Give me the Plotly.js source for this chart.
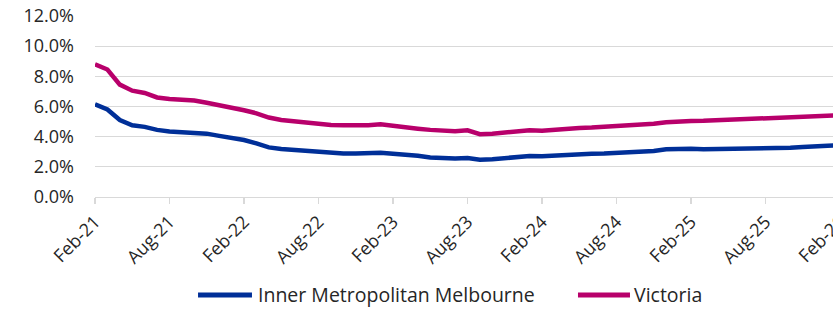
<!DOCTYPE html>
<html>
<head>
<meta charset="utf-8">
<script src="https://cdn.plot.ly/plotly-3.0.1.min.js"></script>
<style>
html, body { margin: 0; padding: 0; background: #ffffff; overflow: hidden; }
#chart { width: 850px; height: 309px; }
</style>
</head>
<body>
<div id="chart"></div>
<script>
var months = [
  "Feb-21","Mar-21","Apr-21","May-21","Jun-21","Jul-21","Aug-21","Sep-21","Oct-21","Nov-21","Dec-21","Jan-22",
  "Feb-22","Mar-22","Apr-22","May-22","Jun-22","Jul-22","Aug-22","Sep-22","Oct-22","Nov-22","Dec-22","Jan-23",
  "Feb-23","Mar-23","Apr-23","May-23","Jun-23","Jul-23","Aug-23","Sep-23","Oct-23","Nov-23","Dec-23","Jan-24",
  "Feb-24","Mar-24","Apr-24","May-24","Jun-24","Jul-24","Aug-24","Sep-24","Oct-24","Nov-24","Dec-24","Jan-25",
  "Feb-25","Mar-25","Apr-25","May-25","Jun-25","Jul-25","Aug-25","Sep-25","Oct-25","Nov-25","Dec-25","Jan-26",
  "Feb-26"
];

var innerMelbourne = [
  6.15, 5.80, 5.10, 4.75, 4.65, 4.45, 4.35, 4.30, 4.25, 4.20, 4.05, 3.95,
  3.78, 3.55, 3.29, 3.18, 3.11, 3.05, 2.98, 2.91, 2.89, 2.89, 2.91, 2.93,
  2.87, 2.82, 2.73, 2.62, 2.56, 2.56, 2.58, 2.47, 2.51, 2.58, 2.67, 2.71,
  2.70, 2.76, 2.80, 2.85, 2.87, 2.89, 2.93, 2.96, 3.00, 3.05, 3.16, 3.20,
  3.20, 3.17, 3.18, 3.18, 3.20, 3.20, 3.20, 3.22, 3.27, 3.31, 3.38, 3.40,
  3.42
];

var victoria = [
  8.80, 8.45, 7.45, 7.05, 6.90, 6.60, 6.50, 6.45, 6.40, 6.25, 6.10, 5.95,
  5.75, 5.55, 5.27, 5.11, 5.02, 4.93, 4.87, 4.78, 4.76, 4.73, 4.76, 4.82,
  4.70, 4.62, 4.53, 4.45, 4.38, 4.36, 4.42, 4.16, 4.20, 4.29, 4.36, 4.42,
  4.40, 4.47, 4.53, 4.58, 4.60, 4.65, 4.69, 4.71, 4.76, 4.85, 4.96, 5.02,
  5.04, 5.05, 5.09, 5.13, 5.16, 5.18, 5.20, 5.22, 5.27, 5.31, 5.38, 5.40,
  5.42
];

var seriesNames = ["Inner Metropolitan Melbourne", "Victoria"];
var seriesColors = ["#002f98", "#b8006b"];

var xTickLabels = ["Feb-21","Aug-21","Feb-22","Aug-22","Feb-23","Aug-23","Feb-24","Aug-24","Feb-25","Aug-25","Feb-26"];
var yTickValues = [0, 2, 4, 6, 8, 10, 12];
var yTickLabels = ["0.0%","2.0%","4.0%","6.0%","8.0%","10.0%","12.0%"];

var fontFamily = "'Open Sans', 'Noto Sans', sans-serif";
var textColor = "#262626";
var gridColor = "#d9d9d9";

var traces = [
  {
    type: "scatter", mode: "lines", name: seriesNames[0],
    x: months, y: innerMelbourne,
    line: { color: seriesColors[0], width: 4.5 },
    hoverinfo: "x+y"
  },
  {
    type: "scatter", mode: "lines", name: seriesNames[1],
    x: months, y: victoria,
    line: { color: seriesColors[1], width: 4.5 },
    hoverinfo: "x+y"
  }
];

// Legend drawn below the plot (paper coordinates)
var legendY = -0.541;
var legendItems = [
  { x0: 0.1383, x1: 0.2107, tx: 0.2161 },
  { x0: 0.6483, x1: 0.7181, tx: 0.7208 }
];
var shapes = [];
var annotations = [];
legendItems.forEach(function (it, i) {
  shapes.push({
    type: "line", xref: "paper", yref: "paper",
    x0: it.x0, x1: it.x1, y0: legendY, y1: legendY,
    line: { color: seriesColors[i], width: 5 }
  });
  annotations.push({
    xref: "paper", yref: "paper", x: it.tx, y: legendY,
    xanchor: "left", yanchor: "middle", showarrow: false,
    text: seriesNames[i],
    font: { family: fontFamily, size: 19.5, color: textColor }
  });
});

var layout = {
  width: 850, height: 309,
  margin: { l: 95, r: 10, t: 16, b: 112 },
  paper_bgcolor: "#ffffff", plot_bgcolor: "#ffffff",
  font: { family: fontFamily, size: 18, color: textColor },
  showlegend: false,
  shapes: shapes,
  annotations: annotations,
  xaxis: {
    type: "category",
    categoryorder: "array", categoryarray: months,
    range: [0, 60],
    tickmode: "array", tickvals: xTickLabels, ticktext: xTickLabels,
    tickangle: -45,
    ticks: "outside", ticklen: 6, tickcolor: gridColor, tickwidth: 1.3,
    showgrid: false, zeroline: false,
    showline: true, linecolor: gridColor, linewidth: 1.3,
    tickfont: { family: fontFamily, size: 18, color: textColor },
    automargin: false,
    fixedrange: true
  },
  yaxis: {
    range: [0, 12],
    tickmode: "array", tickvals: yTickValues, ticktext: yTickLabels,
    showgrid: true, gridcolor: gridColor, gridwidth: 1.3,
    zeroline: false, showline: false, ticks: "",
    ticklabelstandoff: 20,
    tickfont: { family: fontFamily, size: 18, color: textColor },
    automargin: false,
    fixedrange: true
  }
};

Plotly.newPlot("chart", traces, layout, { displayModeBar: false, staticPlot: true });
</script>
</body>
</html>
